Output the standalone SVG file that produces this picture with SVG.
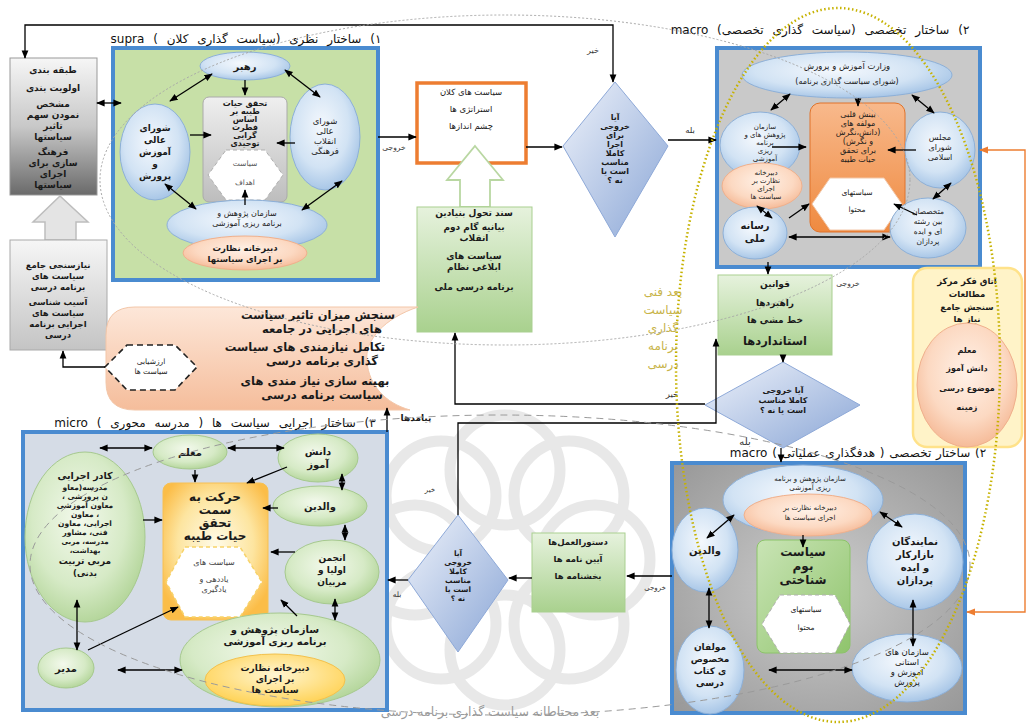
<svg xmlns="http://www.w3.org/2000/svg" width="1035" height="724" viewBox="0 0 1035 724">
<defs>
<style>
text{font-family:"DejaVu Sans",sans-serif;direction:rtl;text-anchor:middle;fill:#1a1a1a;font-size:8px}
.b{font-weight:bold}
.ttl{font-size:12px;fill:#111;word-spacing:5px}
.ln{stroke:#000;stroke-width:1.3;fill:none}
.da{marker-start:url(#ah);marker-end:url(#ah)}
.sa{marker-end:url(#ah)}
.bl{fill:url(#gBlue);stroke:#8db0d8;stroke-width:1}
.gr{fill:url(#gGreenEl);stroke:#a6c98e;stroke-width:1}
.pk{fill:url(#gPink);stroke:#f0b08c;stroke-width:1}
.frame{stroke:#4a8bd0;stroke-width:4}
.gbox{fill:url(#gGreenBox);stroke:#a9cf90;stroke-width:1}
.dia{fill:url(#gDia);stroke:#8ea9d8;stroke-width:1}
.hex{fill:#fff;stroke:#b0b0b0;stroke-width:1;stroke-dasharray:4 3}
.lbl{font-size:8px;fill:#333}
.wm{fill:none;stroke:#e3e3e3;stroke-width:11}
.dim{font-size:12px;fill:#c8b44a}
</style>
<marker id="ah" viewBox="0 0 10 10" refX="9" refY="5" markerWidth="6.5" markerHeight="6.5" orient="auto-start-reverse"><path d="M0,1 L10,5 L0,9 z" fill="#000"/></marker>
<marker id="ao" viewBox="0 0 10 10" refX="9" refY="5" markerWidth="6.5" markerHeight="6.5" orient="auto-start-reverse"><path d="M0,1 L10,5 L0,9 z" fill="#ed7d31"/></marker>
<radialGradient id="gBlue" cx="0.45" cy="0.4" r="0.65"><stop offset="0" stop-color="#f4f8fd"/><stop offset="0.6" stop-color="#d2e3f4"/><stop offset="1" stop-color="#9fc0e4"/></radialGradient>
<radialGradient id="gGreenEl" cx="0.45" cy="0.4" r="0.65"><stop offset="0" stop-color="#f3f9ec"/><stop offset="0.6" stop-color="#d6eac6"/><stop offset="1" stop-color="#aed293"/></radialGradient>
<radialGradient id="gPink" cx="0.5" cy="0.4" r="0.65"><stop offset="0" stop-color="#fff1e7"/><stop offset="0.6" stop-color="#fcd9c2"/><stop offset="1" stop-color="#f4b48f"/></radialGradient>
<radialGradient id="gYelEl" cx="0.5" cy="0.4" r="0.65"><stop offset="0" stop-color="#fff6d2"/><stop offset="1" stop-color="#ffcf4a"/></radialGradient>
<radialGradient id="gYelRect" cx="0.5" cy="0.45" r="0.6"><stop offset="0" stop-color="#fffbe8"/><stop offset="0.6" stop-color="#fde5a0"/><stop offset="1" stop-color="#fbbd48"/></radialGradient>
<linearGradient id="gOrange" x1="0" y1="0" x2="0" y2="1"><stop offset="0" stop-color="#f8b98c"/><stop offset="1" stop-color="#ef8a40"/></linearGradient>
<linearGradient id="gDia" x1="0" y1="0" x2="1" y2="1"><stop offset="0" stop-color="#eef2fa"/><stop offset="1" stop-color="#8aa6d6"/></linearGradient>
<linearGradient id="gGreenBox" x1="0" y1="0" x2="0" y2="1"><stop offset="0" stop-color="#e6f2dd"/><stop offset="1" stop-color="#a9d18e"/></linearGradient>
<linearGradient id="gGrayTop" x1="0" y1="0" x2="0" y2="1"><stop offset="0" stop-color="#f6f6f6"/><stop offset="0.5" stop-color="#c8c8c8"/><stop offset="1" stop-color="#6a6a6a"/></linearGradient>
<linearGradient id="gGrayLow" x1="0" y1="0" x2="0" y2="1"><stop offset="0" stop-color="#f6f6f6"/><stop offset="1" stop-color="#c4c4c4"/></linearGradient>
<linearGradient id="gCenter" x1="0" y1="0" x2="0" y2="1"><stop offset="0" stop-color="#efefef"/><stop offset="1" stop-color="#bdbdbd"/></linearGradient>
<radialGradient id="gMacro2" cx="0.5" cy="0.5" r="0.7"><stop offset="0" stop-color="#cdcdcd"/><stop offset="1" stop-color="#989898"/></radialGradient>
<linearGradient id="gPinkShape" x1="0" y1="0" x2="0" y2="1"><stop offset="0" stop-color="#fde7d9"/><stop offset="1" stop-color="#f5bd9b"/></linearGradient>
<linearGradient id="gGreenRect" x1="0" y1="0" x2="1" y2="1"><stop offset="0" stop-color="#c9e4b5"/><stop offset="1" stop-color="#8fc46c"/></linearGradient>
</defs>

<rect width="1035" height="724" fill="#fff"/>

<!-- faint background watermark -->
<g id="watermark" opacity="0.8">
<circle cx="505" cy="470" r="55" class="wm"/>
<circle cx="505" cy="650" r="55" class="wm"/>
<circle cx="415" cy="560" r="55" class="wm"/>
<circle cx="595" cy="560" r="55" class="wm"/>
<circle cx="441" cy="496" r="55" class="wm"/>
<circle cx="569" cy="496" r="55" class="wm"/>
<circle cx="441" cy="624" r="55" class="wm"/>
<circle cx="569" cy="624" r="55" class="wm"/>
</g>

<!-- containers -->
<g id="supra">
<rect x="113" y="48" width="265" height="232" fill="#c7e0a7" class="frame"/>
<text class="ttl" x="246" y="43">۱) ساختار نظری (سیاست گذاری کلان ) supra</text>
</g>
<g id="macro-top">
<rect x="717" y="48" width="263" height="219" fill="#c9c9c9" class="frame"/>
<text class="ttl" x="820" y="34">۲) ساختار تخصصی (سیاست گذاری تخصصی) macro</text>
</g>
<g id="micro">
<rect x="23" y="432" width="364" height="278" fill="#d5dce6" class="frame"/>
<text class="ttl" x="215" y="427">۳) ساختار اجرایی سیاست ها ( مدرسه محوری ) micro</text>
</g>
<g id="macro-bottom">
<rect x="672" y="463" width="293" height="250" fill="url(#gMacro2)" class="frame"/>
<text class="ttl" x="858" y="457" style="word-spacing:1px">۲) ساختار تخصصی ( هدفگذاری عملیاتی ) macro</text>
</g>

<!-- left column -->
<g id="classify">
<rect x="10" y="58" width="87" height="137" fill="url(#gGrayTop)" stroke="#999"/>
<text class="b" x="53" y="73" style="font-size:9px">طبقه بندی</text>
<text class="b" x="53" y="91" style="font-size:9px">اولویت بندی</text>
<text class="b" x="53" y="107" style="font-size:9px">مشخص</text>
<text class="b" x="53" y="118" style="font-size:9px">نمودن سهم</text>
<text class="b" x="53" y="129" style="font-size:9px">تاثیر</text>
<text class="b" x="53" y="140" style="font-size:9px">سیاستها</text>
<text class="b" x="53" y="155" style="font-size:9px">فرهنگ</text>
<text class="b" x="53" y="166" style="font-size:9px">سازی برای</text>
<text class="b" x="53" y="177" style="font-size:9px">اجرای</text>
<text class="b" x="53" y="188" style="font-size:9px">سیاستها</text>
</g>
<g id="up-arrow-gray">
<polygon points="60,196 88,222 76,222 76,240 45,240 45,222 33,222" fill="#e4e4e4" stroke="#bdbdbd" stroke-width="1.5"/>
</g>
<g id="needs">
<rect x="10" y="240" width="97" height="110" fill="url(#gGrayLow)" stroke="#aaa"/>
<text class="b" x="58" y="268" style="font-size:8.5px">نیازسنجی جامع</text>
<text class="b" x="58" y="279" style="font-size:8.5px">سیاست های</text>
<text class="b" x="58" y="290" style="font-size:8.5px">برنامه درسی</text>
<text class="b" x="58" y="305" style="font-size:8.5px">آسیب شناسی</text>
<text class="b" x="58" y="316" style="font-size:8.5px">سیاست های</text>
<text class="b" x="58" y="327" style="font-size:8.5px">اجرایی برنامه</text>
<text class="b" x="58" y="338" style="font-size:8.5px">درسی</text>
</g>

<!-- supra nodes -->
<g id="rahbar"><ellipse cx="245" cy="66" rx="45" ry="14" class="bl"/><text class="b" x="245" y="70" style="font-size:10px">رهبر</text></g>
<g id="shoraye-amoozesh"><ellipse cx="155" cy="152" rx="35" ry="48" class="bl"/>
<text class="b" x="155" y="131" style="font-size:9px">شورای</text>
<text class="b" x="155" y="143" style="font-size:9px">عالی</text>
<text class="b" x="155" y="155" style="font-size:9px">آموزش</text>
<text class="b" x="155" y="167" style="font-size:9px">و</text>
<text class="b" x="155" y="179" style="font-size:9px">پرورش</text></g>
<g id="shoraye-enghelab"><ellipse cx="325" cy="137" rx="35" ry="53" class="bl"/>
<text x="325" y="124" style="font-size:8.5px">شورای</text>
<text x="325" y="134" style="font-size:8.5px">عالی</text>
<text x="325" y="144" style="font-size:8.5px">انقلاب</text>
<text x="325" y="154" style="font-size:8.5px">فرهنگی</text></g>
<g id="hayat-supra"><rect x="203" y="97" width="84" height="105" rx="6" fill="url(#gCenter)" stroke="#aaa"/>
<text class="b" x="245" y="106">تحقق حیات</text>
<text class="b" x="245" y="114">طیبه بر</text>
<text class="b" x="245" y="122">اساس</text>
<text class="b" x="245" y="130">فطرت</text>
<text class="b" x="245" y="138">گرایی</text>
<text class="b" x="245" y="146">توحیدی</text>
<polygon points="226,150 265,150 283,175 265,200 226,200 208,175" class="hex"/>
<text x="245" y="166" style="font-size:7.5px;fill:#555">سیاست</text>
<text x="245" y="185" style="font-size:7.5px;fill:#555">اهداف</text></g>
<g id="sazman-supra"><ellipse cx="247" cy="225" rx="80" ry="25" class="bl"/>
<text x="247" y="216" style="font-size:8px">سازمان پژوهش و</text>
<text x="247" y="226" style="font-size:8px">برنامه ریزی آموزشی</text>
<ellipse cx="245" cy="253" rx="62" ry="17" class="pk"/>
<text class="b" x="245" y="251" style="font-size:8.5px">دبیرخانه نظارت</text>
<text class="b" x="245" y="262" style="font-size:8.5px">بر اجرای سیاستها</text></g>

<!-- center column -->
<g id="kalan"><rect x="417" y="83" width="109" height="80" fill="#fff" stroke="#ed7d31" stroke-width="3.5"/>
<text x="471" y="95" style="font-size:8.5px">سیاست های کلان</text>
<text x="471" y="112" style="font-size:8.5px">استراتژی ها</text>
<text x="471" y="129" style="font-size:8.5px">چشم اندازها</text></g>
<g id="up-arrow-green"><polygon points="475,146 503,180 490,180 490,207 460,207 460,180 447,180" fill="#fff" stroke="#b9d7a2" stroke-width="1.8"/></g>
<g id="sanad"><rect x="417" y="207" width="115" height="125" class="gbox"/>
<text class="b" x="474" y="216" style="font-size:9px">سند تحول بنیادین</text>
<text class="b" x="474" y="230" style="font-size:9px">بیانیه گام دوم</text>
<text class="b" x="474" y="241" style="font-size:9px">انقلاب</text>
<text class="b" x="474" y="259" style="font-size:9px">سیاست های</text>
<text class="b" x="474" y="270" style="font-size:9px">ابلاغی نظام</text>
<text class="b" x="474" y="290" style="font-size:9px">برنامه درسی ملی</text></g>
<g id="diamond1"><polygon points="615,82 668,146 615,237 563,146" class="dia"/>
<text class="b" x="615" y="120">آیا</text>
<text class="b" x="615" y="129">خروجی</text>
<text class="b" x="615" y="138">برای</text>
<text class="b" x="615" y="147">اجرا</text>
<text class="b" x="615" y="156">کاملا</text>
<text class="b" x="615" y="165">مناسب</text>
<text class="b" x="615" y="174">است یا</text>
<text class="b" x="615" y="183">نه ؟</text></g>

<!-- macro top nodes -->
<g id="vezarat"><ellipse cx="847" cy="75" rx="105" ry="23" class="bl"/>
<text x="847" y="69" style="font-size:8.5px">وزارت آموزش و پرورش</text>
<text x="847" y="84" style="font-size:8px">(شورای سیاست گذاری برنامه)</text></g>
<g id="binesh"><rect x="810" y="103" width="95" height="129" rx="10" fill="url(#gOrange)" stroke="#e0732a"/>
<text x="858" y="117">بینش قلبی</text>
<text x="858" y="126">مولفه های</text>
<text x="858" y="135">(دانش،نگرش</text>
<text x="858" y="144">و نگرش)</text>
<text x="858" y="153">برای تحقق</text>
<text x="858" y="162">حیات طیبه</text>
<polygon points="830,178 884,178 902,204 884,230 830,230 812,204" fill="#fff" stroke="#f2c7a8"/>
<text x="857" y="195" style="font-size:7.5px">سیاستهای</text>
<text x="857" y="212" style="font-size:7.5px">محتوا</text></g>
<g id="sazman-macro"><ellipse cx="760" cy="145" rx="40" ry="33" class="bl"/>
<text x="765" y="129" style="font-size:7px">سازمان</text>
<text x="765" y="137" style="font-size:7px">پژوهش های و</text>
<text x="765" y="145" style="font-size:7px">برنامه</text>
<text x="765" y="153" style="font-size:7px">ریزی</text>
<text x="765" y="161" style="font-size:7px">آموزشی</text></g>
<g id="dabir-macro"><ellipse cx="762" cy="186" rx="40" ry="23" class="pk"/>
<text x="766" y="175" style="font-size:7px">دبیرخانه</text>
<text x="766" y="183" style="font-size:7px">نظارت بر</text>
<text x="766" y="191" style="font-size:7px">اجرای</text>
<text x="766" y="199" style="font-size:7px">سیاست ها</text></g>
<g id="resane"><ellipse cx="755" cy="233" rx="32" ry="26" class="bl"/>
<text class="b" x="755" y="229" style="font-size:10px">رسانه</text>
<text class="b" x="755" y="242" style="font-size:10px">ملی</text></g>
<g id="majles"><ellipse cx="940" cy="150" rx="35" ry="38" class="bl"/>
<text x="940" y="140">مجلس</text>
<text x="940" y="150">شورای</text>
<text x="940" y="160">اسلامی</text></g>
<g id="motakhasesan"><ellipse cx="928" cy="228" rx="38" ry="30" class="bl"/>
<text x="928" y="214" style="font-size:7.5px">متخصصان</text>
<text x="928" y="224" style="font-size:7.5px">بین رشته</text>
<text x="928" y="234" style="font-size:7.5px">ای و ایده</text>
<text x="928" y="244" style="font-size:7.5px">پردازان</text></g>

<g id="ghavanin"><rect x="718" y="275" width="114" height="80" class="gbox"/>
<text class="b" x="775" y="287" style="font-size:9px">قوانین</text>
<text class="b" x="775" y="306" style="font-size:9px">راهبردها</text>
<text class="b" x="775" y="323" style="font-size:9px">خط مشی ها</text>
<text class="b" x="775" y="345" style="font-size:11.5px">استانداردها</text></g>
<g id="diamond2"><polygon points="783,362 860,405 783,448 705,405" class="dia"/>
<text class="b" x="783" y="393">آیا خروجی</text>
<text class="b" x="783" y="403">کاملا مناسب</text>
<text class="b" x="783" y="413">است یا نه ؟</text></g>

<g id="otagh-fekr"><rect x="913" y="268" width="109" height="179" rx="14" fill="#fff3c8" stroke="#ffe28a" stroke-width="2.5"/>
<text class="b" x="967" y="284" style="font-size:8.5px">اتاق فکر مرکز</text>
<text class="b" x="967" y="297" style="font-size:8.5px">مطالعات</text>
<text class="b" x="967" y="310" style="font-size:8.5px">سنجش جامع</text>
<text class="b" x="967" y="322" style="font-size:8.5px">نیاز ها</text>
<ellipse cx="967" cy="385" rx="50" ry="62" class="pk"/>
<text class="b" x="967" y="353">معلم</text>
<text class="b" x="967" y="371">دانش آموز</text>
<text class="b" x="967" y="391">موضوع درسی</text>
<text class="b" x="967" y="410">زمینه</text></g>

<!-- pink evaluation shape -->
<g id="sanjesh">
<path d="M135,307 H418 C385,318 364,340 367,362 C369,385 385,403 410,410 H135 Q106,410 106,382 V335 Q106,307 135,307 Z" fill="url(#gPinkShape)" stroke="#f3c6a8"/>
<text class="b" x="318" y="319" style="font-size:11.5px">سنجش میزان تاثیر سیاست</text>
<text class="b" x="322" y="333" style="font-size:11.5px">های اجرایی در جامعه</text>
<text class="b" x="305" y="351" style="font-size:11.5px">تکامل نیازمندی های سیاست</text>
<text class="b" x="322" y="365" style="font-size:11.5px">گذاری برنامه درسی</text>
<text class="b" x="315" y="385" style="font-size:11.5px">بهینه سازی نیاز مندی های</text>
<text class="b" x="322" y="399" style="font-size:11.5px">سیاست برنامه درسی</text>
</g>
<g id="arzeshyabi"><polygon points="127,345 175,345 197,367 175,390 127,390 105,367" fill="#fff" stroke="#222" stroke-width="1.6" stroke-dasharray="6 4"/>
<text x="151" y="364" style="font-size:7.5px">ارزشیابی</text>
<text x="151" y="374" style="font-size:7.5px">سیاست ها</text></g>

<!-- micro nodes -->
<g id="moallem"><ellipse cx="190" cy="452" rx="37" ry="17" class="gr"/><text class="b" x="190" y="456" style="font-size:10px">معلم</text></g>
<g id="kadr"><ellipse cx="85" cy="537" rx="60" ry="85" class="gr"/>
<text class="b" x="85" y="479" style="font-size:9.5px">کادر اجرایی</text>
<text class="b" x="85" y="490" style="font-size:7.5px">مدرسه(معاو</text>
<text class="b" x="85" y="499" style="font-size:7.5px">ن پرورشی ،</text>
<text class="b" x="85" y="508" style="font-size:7.5px">معاون آموزشی</text>
<text class="b" x="85" y="517" style="font-size:7.5px">، معاون</text>
<text class="b" x="85" y="526" style="font-size:7.5px">اجرایی، معاون</text>
<text class="b" x="85" y="535" style="font-size:7.5px">فنی، مشاور</text>
<text class="b" x="85" y="544" style="font-size:7px">مدرسه، مربی</text>
<text class="b" x="85" y="553" style="font-size:7px">بهداشت،</text>
<text class="b" x="85" y="564" style="font-size:9px">مربی تربیت</text>
<text class="b" x="85" y="576" style="font-size:8.5px">بدنی)</text></g>
<g id="modir"><ellipse cx="66" cy="668" rx="28" ry="20" class="gr"/><text class="b" x="66" y="672" style="font-size:10px">مدیر</text></g>
<g id="harekat"><rect x="163" y="483" width="105" height="137" rx="8" fill="url(#gYelRect)" stroke="#f6c054"/>
<text class="b" x="215" y="501" style="font-size:12px">حرکت به</text>
<text class="b" x="215" y="514" style="font-size:12px">سمت</text>
<text class="b" x="215" y="527" style="font-size:12px">تحقق</text>
<text class="b" x="215" y="540" style="font-size:12px">حیات طیبه</text>
<polygon points="185,547 240,547 262,582 240,617 185,617 166,582" fill="#fff" stroke="#f7d36a" stroke-width="1.5" stroke-dasharray="4 3"/>
<text x="214" y="565" style="font-size:8px;fill:#444">سیاست های</text>
<text x="214" y="582" style="font-size:8px;fill:#444">یاددهی و</text>
<text x="214" y="592" style="font-size:8px;fill:#444">یادگیری</text></g>
<g id="daneshamooz"><ellipse cx="318" cy="458" rx="40" ry="24" class="gr"/>
<text class="b" x="318" y="455" style="font-size:10px">دانش</text>
<text class="b" x="318" y="468" style="font-size:10px">آموز</text></g>
<g id="valedein-micro"><ellipse cx="320" cy="506" rx="47" ry="20" class="gr"/><text class="b" x="320" y="510" style="font-size:10px">والدین</text></g>
<g id="anjoman"><ellipse cx="332" cy="572" rx="47" ry="32" class="gr"/>
<text class="b" x="332" y="561" style="font-size:9px">انجمن</text>
<text class="b" x="332" y="573" style="font-size:9px">اولیا و</text>
<text class="b" x="332" y="585" style="font-size:9px">مربیان</text></g>
<g id="sazman-micro"><ellipse cx="280" cy="660" rx="100" ry="47" class="gr"/>
<text class="b" x="275" y="633" style="font-size:10px">سازمان پژوهش و</text>
<text class="b" x="275" y="645" style="font-size:10px">برنامه ریزی آموزشی</text>
<ellipse cx="275" cy="680" rx="70" ry="26" fill="url(#gYelEl)" stroke="#f2c14e"/>
<text class="b" x="275" y="671" style="font-size:9px">دبیرخانه نظارت</text>
<text class="b" x="275" y="682" style="font-size:9px">بر اجرای</text>
<text class="b" x="275" y="693" style="font-size:9px">سیاست ها</text></g>

<g id="diamond3"><polygon points="458,515 508,580 458,652 408,580" class="dia"/>
<text class="b" x="458" y="556" style="font-size:7.5px">آیا</text>
<text class="b" x="458" y="565" style="font-size:7.5px">خروجی</text>
<text class="b" x="458" y="574" style="font-size:7.5px">کاملا</text>
<text class="b" x="458" y="583" style="font-size:7.5px">مناسب</text>
<text class="b" x="458" y="592" style="font-size:7.5px">است یا</text>
<text class="b" x="458" y="601" style="font-size:7.5px">نه ؟</text></g>
<g id="dastoorolamal"><rect x="532" y="533" width="93" height="79" class="gbox"/>
<text class="b" x="578" y="545" style="font-size:8.5px">دستورالعمل‌ها</text>
<text class="b" x="578" y="562" style="font-size:8.5px">آیین نامه ها</text>
<text class="b" x="578" y="579" style="font-size:8.5px">بخشنامه ها</text></g>

<!-- macro bottom nodes -->
<g id="sazman-macro2"><ellipse cx="803" cy="500" rx="80" ry="35" class="bl"/>
<text x="810" y="481" style="font-size:7px">سازمان پژوهش و برنامه</text>
<text x="810" y="490" style="font-size:7px">ریزی آموزشی</text>
<ellipse cx="808" cy="515" rx="64" ry="21" class="pk"/>
<text x="810" y="510" style="font-size:7px">دبیرخانه نظارت بر</text>
<text x="810" y="520" style="font-size:7px">اجرای سیاست ها</text></g>
<g id="valedein-macro"><ellipse cx="705" cy="550" rx="33" ry="42" class="bl"/><text class="b" x="705" y="554" style="font-size:10px">والدین</text></g>
<g id="boom"><rect x="757" y="540" width="93" height="113" rx="8" fill="url(#gGreenRect)" stroke="#8cc36a"/>
<text class="b" x="803" y="556" style="font-size:12px">سیاست</text>
<text class="b" x="803" y="570" style="font-size:12px">بوم</text>
<text class="b" x="803" y="584" style="font-size:12px">شناختی</text>
<polygon points="780,595 835,595 850,624 835,653 780,653 762,624" class="hex"/>
<text x="806" y="612" style="font-size:7.5px">سیاستهای</text>
<text x="806" y="630" style="font-size:7.5px">محتوا</text></g>
<g id="namayandegan"><ellipse cx="915" cy="562" rx="48" ry="48" class="bl"/>
<text class="b" x="915" y="545" style="font-size:10px">نمایندگان</text>
<text class="b" x="915" y="558" style="font-size:10px">بازارکار</text>
<text class="b" x="915" y="571" style="font-size:10px">و ایده</text>
<text class="b" x="915" y="584" style="font-size:10px">پردازان</text></g>
<g id="ostani"><ellipse cx="907" cy="668" rx="55" ry="34" class="bl"/>
<text x="907" y="655" style="font-size:8.5px">سازمان های</text>
<text x="907" y="665" style="font-size:8.5px">استانی</text>
<text x="907" y="675" style="font-size:8.5px">آموزش و</text>
<text x="907" y="685" style="font-size:8.5px">پرورش</text></g>
<g id="moallefan"><ellipse cx="710" cy="670" rx="34" ry="44" class="bl"/>
<text class="b" x="710" y="650" style="font-size:9px">مولفان</text>
<text class="b" x="710" y="662" style="font-size:9px">مخصوص</text>
<text class="b" x="710" y="674" style="font-size:9px">ی کتاب</text>
<text class="b" x="710" y="686" style="font-size:9px">درسی</text></g>

<!-- connectors -->
<g id="connectors">
<line class="ln da" x1="97" y1="103" x2="121" y2="103"/>
<line class="ln da" x1="170" y1="101" x2="212" y2="74"/>
<line class="ln sa" x1="245" y1="80" x2="245" y2="95"/>
<line class="ln da" x1="285" y1="70" x2="320" y2="97"/>
<line class="ln sa" x1="190" y1="135" x2="211" y2="135"/>
<line class="ln sa" x1="295" y1="143" x2="277" y2="143"/>
<line class="ln sa" x1="245" y1="205" x2="245" y2="190"/>
<line class="ln da" x1="165" y1="184" x2="196" y2="209"/>
<line class="ln da" x1="342" y1="181" x2="302" y2="210"/>
<line class="ln sa" x1="378" y1="137" x2="416" y2="137"/>
<text class="lbl" x="394" y="150" style="font-size:7.5px">خروجی</text>
<line class="ln sa" x1="526" y1="147" x2="562" y2="147"/>
<path class="ln da" d="M613,82 V25 H25 V58"/>
<text class="lbl" x="593" y="53">خیر</text>
<line class="ln sa" x1="668" y1="140" x2="716" y2="140"/>
<text class="lbl" x="690" y="133" style="font-size:8.5px">بله</text>
<line class="ln da" x1="790" y1="94" x2="771" y2="110"/>
<line class="ln sa" x1="858" y1="98" x2="858" y2="106"/>
<line class="ln da" x1="912" y1="95" x2="934" y2="113"/>
<line class="ln sa" x1="772" y1="147" x2="806" y2="147"/>
<line class="ln sa" x1="916" y1="150" x2="888" y2="150"/>
<line class="ln da" x1="951" y1="183" x2="933" y2="199"/>
<line class="ln sa" x1="917" y1="215" x2="894" y2="204"/>
<line class="ln sa" x1="789" y1="218" x2="809" y2="204"/>
<line class="ln da" x1="789" y1="237" x2="890" y2="237"/>
<line class="ln da" x1="757" y1="206" x2="772" y2="218"/>
<path d="M980,150 H1025 V612 H967" fill="none" stroke="#ed7d31" stroke-width="1.4" marker-start="url(#ao)" marker-end="url(#ao)"/>
<line class="ln sa" x1="768" y1="262" x2="768" y2="274"/>
<text class="lbl" x="848" y="286" style="font-size:7.5px">خروجی</text>
<line class="ln sa" x1="783" y1="355" x2="783" y2="362"/>
<path class="ln sa" d="M705,404 H455 V333"/>
<text class="lbl" x="672" y="397" style="font-size:8.5px">خیر</text>
<line class="ln sa" x1="781" y1="448" x2="781" y2="462"/>
<text class="lbl" x="745" y="445" style="font-size:10px">بله</text>
<path class="ln sa" d="M458,515 V423 H716 V339"/>
<text class="lbl" x="430" y="492" style="font-size:7px">خیر</text>
<line class="ln da" x1="734" y1="515" x2="707" y2="538"/>
<line class="ln sa" x1="803" y1="535" x2="803" y2="547"/>
<line class="ln da" x1="880" y1="512" x2="902" y2="527"/>
<line class="ln da" x1="913" y1="600" x2="913" y2="646"/>
<line class="ln da" x1="769" y1="670" x2="852" y2="670"/>
<line class="ln da" x1="709" y1="588" x2="709" y2="628"/>
<line class="ln sa" x1="672" y1="576" x2="627" y2="576"/>
<text class="lbl" x="655" y="590" style="font-size:7px">خروجی</text>
<line class="ln sa" x1="532" y1="578" x2="509" y2="578"/>
<line class="ln sa" x1="408" y1="580" x2="388" y2="580"/>
<text class="lbl" x="397" y="597" style="font-size:7.5px">بله</text>
<line class="ln sa" x1="387" y1="432" x2="387" y2="408"/>
<text class="b" x="416" y="421" style="font-size:9px">پیامدها</text>
<path class="ln sa" d="M105,367 H63 V351"/>
<line class="ln da" x1="100" y1="448" x2="152" y2="448"/>
<line class="ln da" x1="228" y1="448" x2="284" y2="448"/>
<line class="ln sa" x1="195" y1="470" x2="195" y2="482"/>
<line class="ln sa" x1="287" y1="467" x2="247" y2="483"/>
<line class="ln sa" x1="143" y1="520" x2="162" y2="520"/>
<line class="ln sa" x1="278" y1="508" x2="263" y2="508"/>
<line class="ln da" x1="342" y1="474" x2="342" y2="490"/>
<line class="ln da" x1="345" y1="525" x2="345" y2="540"/>
<line class="ln sa" x1="295" y1="552" x2="271" y2="552"/>
<line class="ln da" x1="335" y1="599" x2="335" y2="620"/>
<line class="ln sa" x1="297" y1="616" x2="281" y2="600"/>
<line class="ln da" x1="77" y1="600" x2="77" y2="650"/>
<line class="ln sa" x1="88" y1="650" x2="178" y2="607"/>
<line class="ln da" x1="118" y1="670" x2="182" y2="670"/>
</g>

<!-- decorations -->
<g id="dimensions">
<ellipse cx="505" cy="180" rx="405" ry="165" fill="none" stroke="#a8a8a8" stroke-width="1" stroke-dasharray="2 2"/>
<ellipse cx="500" cy="565" rx="470" ry="150" fill="none" stroke="#9a9a9a" stroke-width="1" stroke-dasharray="7 5"/>
<ellipse cx="838" cy="365" rx="162" ry="357" fill="none" stroke="#c6b200" stroke-width="2.5" stroke-dasharray="1.5 2.5"/>
<text class="dim" x="663" y="296">بعد فنی</text>
<text class="dim" x="663" y="314">سیاست</text>
<text class="dim" x="663" y="332">گذاری</text>
<text class="dim" x="663" y="350">برنامه</text>
<text class="dim" x="663" y="368">درسی</text>
<text x="490" y="716" style="font-size:12.5px;fill:#9a9a9a;letter-spacing:0.5px">بعد محتاطانه سیاست گذاری برنامه درسی</text>
</g>
</svg>
